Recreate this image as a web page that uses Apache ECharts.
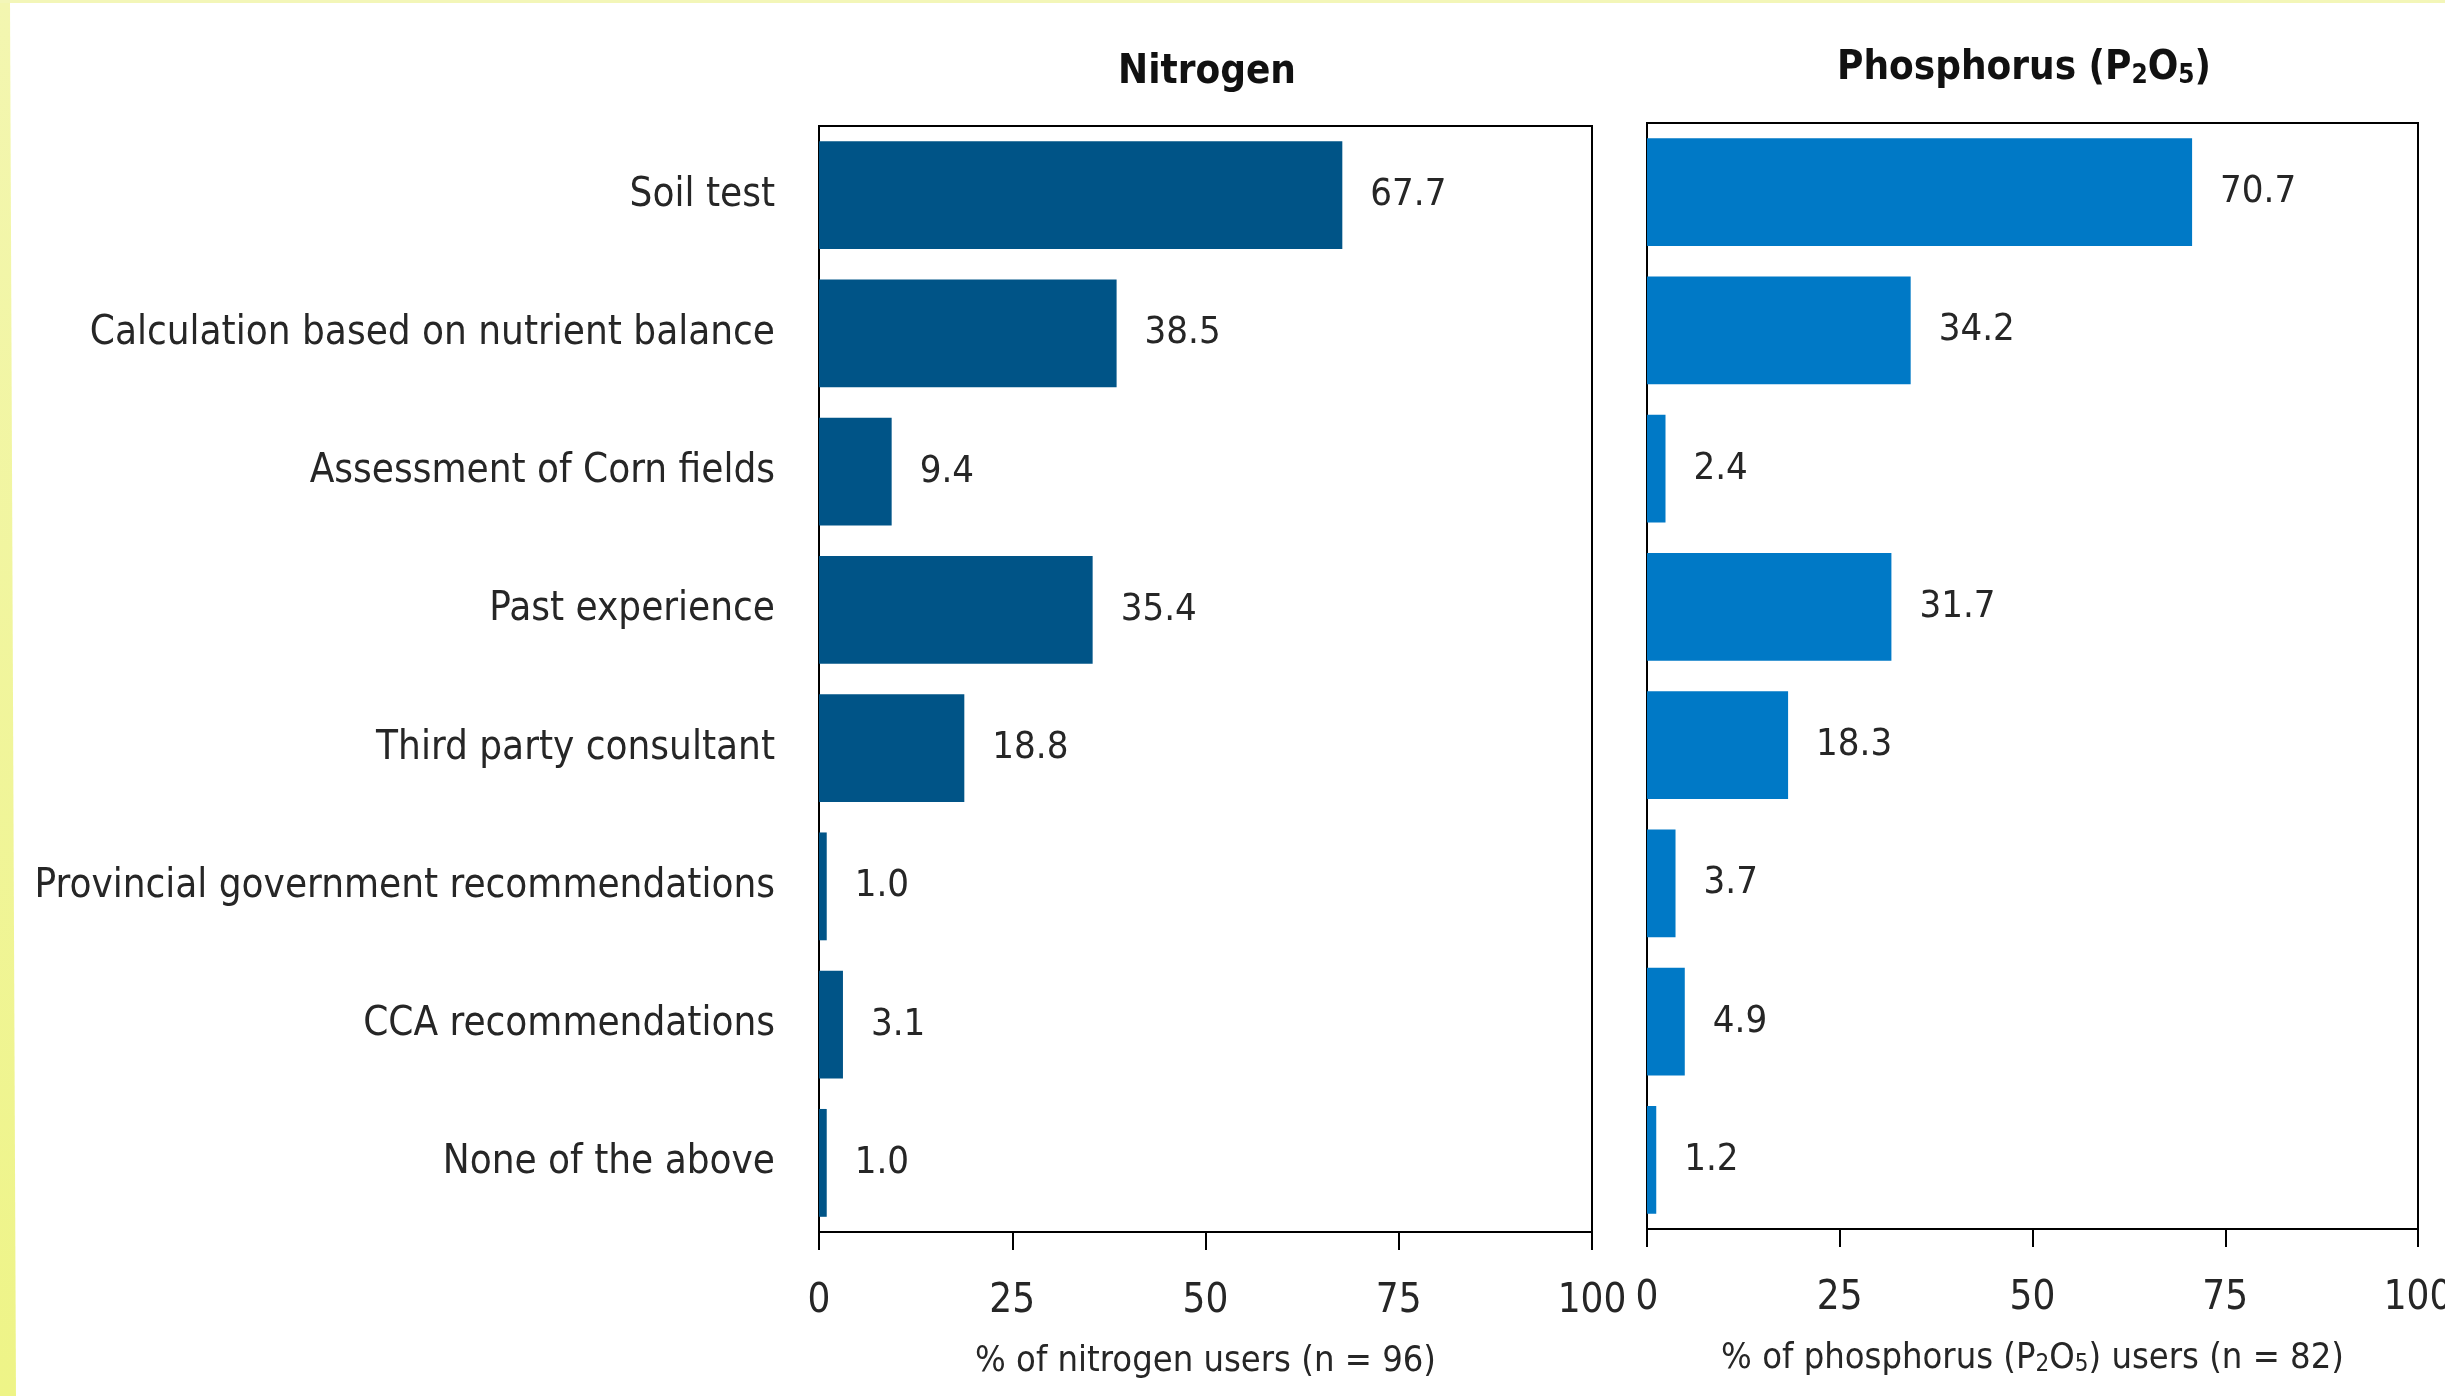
<!DOCTYPE html>
<html>
<head>
<meta charset="utf-8">
<title>Nitrogen and phosphorus</title>
<script src="https://cdn.jsdelivr.net/npm/echarts@6/dist/echarts.min.js"></script>
<style>
  html, body { margin: 0; padding: 0; background: #fff; }
  #main { width: 2445px; height: 1396px; }
</style>
</head>
<body>
<div id="main"></div>
<script>
// categories, top to bottom
var categories = [
  'Soil test',
  'Calculation based on nutrient balance',
  'Assessment of Corn fields',
  'Past experience',
  'Third party consultant',
  'Provincial government recommendations',
  'CCA recommendations',
  'None of the above'
];
var nitrogenValues = [67.7, 38.5, 9.4, 35.4, 18.8, 1.0, 3.1, 1.0];
var phosphorusValues = [70.7, 34.2, 2.4, 31.7, 18.3, 3.7, 4.9, 1.2];
var xTicks = [0, 25, 50, 75, 100];

var FONT = '"Liberation Sans Narrow", "DejaVu Sans Condensed", "Liberation Sans", sans-serif';
var TXT = '#262626';

var chart = echarts.init(document.getElementById('main'));

function xAxisFor(idx, name) {
  return {
    type: 'value',
    gridIndex: idx,
    min: xTicks[0],
    max: xTicks[xTicks.length - 1],
    interval: 25,
    splitLine: { show: false },
    axisLine: { show: true, lineStyle: { color: '#000', width: 2 } },
    axisTick: { show: true, length: 18, lineStyle: { color: '#000', width: 2 } },
    axisLabel: { margin: 50, fontSize: 40, color: TXT, fontFamily: FONT },
    name: name,
    nameLocation: 'middle',
    nameGap: 112,
    nameTextStyle: {
      fontSize: 36, color: TXT, fontFamily: FONT,
      rich: { sub: { fontSize: 24, color: TXT, fontFamily: FONT, padding: [12, 0, 0, 0] } }
    }
  };
}

function yAxisFor(idx, showLabels) {
  return {
    type: 'category',
    gridIndex: idx,
    data: categories,
    inverse: true,
    axisLine: { show: true, lineStyle: { color: '#000', width: 2 } },
    axisTick: { show: false },
    axisLabel: { show: showLabels, margin: 44, fontSize: 40, color: TXT, fontFamily: FONT }
  };
}

function barSeries(idx, values, color) {
  return {
    type: 'bar',
    xAxisIndex: idx,
    yAxisIndex: idx,
    data: values,
    barCategoryGap: '22%',
    itemStyle: { color: color },
    label: {
      show: true,
      position: 'right',
      distance: 28,
      fontSize: 38,
      color: TXT,
      fontFamily: FONT,
      formatter: function (p) { return p.value.toFixed(1); }
    }
  };
}

var option = {
  backgroundColor: '#fff',
  animation: false,
  graphic: [
    {
      type: 'polygon',
      shape: { points: [[0, 0], [10, 0], [16, 1396], [0, 1396]] },
      style: { fill: new echarts.graphic.LinearGradient(0, 0, 0, 1, [
        { offset: 0, color: '#f3f6b0' }, { offset: 1, color: '#eef487' }]) }
    },
    {
      type: 'rect',
      shape: { x: 0, y: 0, width: 2445, height: 3 },
      style: { fill: '#f3f6b8' }
    }
  ],
  title: [
    {
      text: 'Nitrogen',
      left: 1202, top: 48, textAlign: 'center',
      textStyle: { fontSize: 40, fontWeight: 'bold', color: '#111', fontFamily: FONT }
    },
    {
      text: 'Phosphorus (P{sub|2}O{sub|5})',
      left: 2019, top: 44, textAlign: 'center',
      textStyle: {
        fontSize: 40, fontWeight: 'bold', color: '#111', fontFamily: FONT,
        rich: { sub: { fontSize: 26, fontWeight: 'bold', color: '#111', fontFamily: FONT, padding: [14, 0, 0, 0] } }
      }
    }
  ],
  grid: [
    { left: 819, right: 853, top: 126, bottom: 164, outerBoundsMode: 'none', containLabel: false,
      show: true, borderColor: '#000', borderWidth: 2, backgroundColor: 'transparent' },
    { left: 1647, right: 27, top: 123, bottom: 167, outerBoundsMode: 'none', containLabel: false,
      show: true, borderColor: '#000', borderWidth: 2, backgroundColor: 'transparent' }
  ],
  xAxis: [
    xAxisFor(0, '% of nitrogen users (n = 96)'),
    xAxisFor(1, '% of phosphorus (P{sub|2}O{sub|5}) users (n = 82)')
  ],
  yAxis: [yAxisFor(0, true), yAxisFor(1, false)],
  series: [
    barSeries(0, nitrogenValues, '#005487'),
    barSeries(1, phosphorusValues, '#0079c6')
  ]
};

chart.setOption(option);
</script>
</body>
</html>
